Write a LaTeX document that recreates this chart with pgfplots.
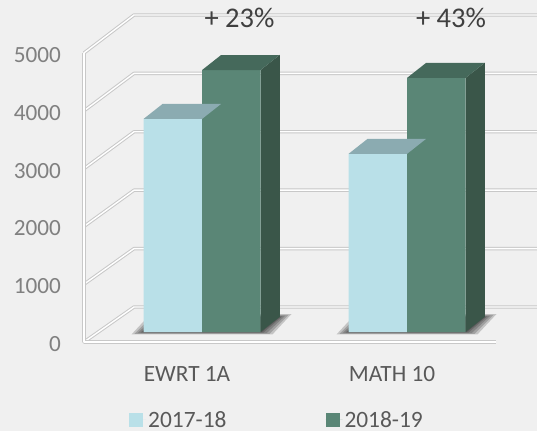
\documentclass[border=0pt]{standalone}
\usepackage{pgfplots}
\pgfplotsset{compat=1.18}
\usepackage{pgfplotstable}
\usepackage{fontspec}
\setmainfont{Carlito}
\definecolor{bg}{HTML}{F0F0F0}
\definecolor{lbF}{HTML}{B9E0E8}
\definecolor{lbT}{HTML}{8BABB1}
\definecolor{gF}{HTML}{5A8676}
\definecolor{gT}{HTML}{45695B}
\definecolor{gS}{HTML}{3A5649}
\definecolor{gridc}{HTML}{C8C8C8}
\definecolor{tickc}{HTML}{808080}
\definecolor{catc}{HTML}{595959}
\definecolor{pctc}{HTML}{404040}

\pgfplotstableread{
cat v1 v2
0 3660 4500
1 3060 4365
}\enrol

% top face of the 2017-18 bar (mark at its front top right corner)
\pgfdeclareplotmark{topA}{%
  \pgfpathmoveto{\pgfqpoint{0pt}{0pt}}%
  \pgfpathlineto{\pgfqpoint{-58.5pt}{0pt}}%
  \pgfpathlineto{\pgfqpoint{-39.5pt}{15pt}}%
  \pgfpathlineto{\pgfqpoint{19pt}{15pt}}%
  \pgfpathclose
  \pgfsetfillcolor{lbT}\pgfusepath{fill}}
% top face of the 2018-19 bar
\pgfdeclareplotmark{topB}{%
  \pgfpathmoveto{\pgfqpoint{0pt}{0pt}}%
  \pgfpathlineto{\pgfqpoint{-58.5pt}{0pt}}%
  \pgfpathlineto{\pgfqpoint{-39.5pt}{15pt}}%
  \pgfpathlineto{\pgfqpoint{19pt}{15pt}}%
  \pgfpathclose
  \pgfsetfillcolor{gT}\pgfusepath{fill}}

\tikzset{grid3d/.style={draw=gridc, double=white, double distance=1.4pt, line width=1pt, line join=round}}

\begin{document}
\begin{tikzpicture}
\useasboundingbox (0,0) rectangle (537pt,431pt);
\fill[bg] (0,0) rectangle (537pt,431pt);
% back wall and side wall gridlines
\foreach \k in {0,...,5}{
  \pgfmathsetmacro\yb{124+58.4*\k}
  \pgfmathsetmacro\yf{89+57.8*\k}
  \draw[grid3d] (84pt,\yf pt) -- (134pt,\yb pt) -- (540pt,\yb pt);
}
\draw[grid3d] (84pt,378pt) -- (84pt,89pt) -- (496pt,89pt);
% soft floor shadows under the bar pairs
\foreach \xr in {260.5,465.5}{
  \foreach \e in {12,9,6,3,1}{
    \fill[black, opacity=0.18]
      (\xr pt-117pt-\e pt, 99pt-\e pt/5) -- (\xr pt+\e pt, 99pt-\e pt/5)
      -- (\xr pt+19pt+\e pt, 114pt+\e pt/4) -- (\xr pt-98pt-\e pt, 114pt+\e pt/4) -- cycle;
  }
}

\begin{axis}[
  at={(0,0)}, anchor=south west,
  x=205pt, y=0.0582pt,
  xmin=-0.985366, xmax=1.634146,
  ymin=-1701.03, ymax=5704.47,
  hide axis, clip=false,
  legend columns=2,
  legend style={at={(0.2402,0.0260)}, anchor=west, draw=none, fill=none,
    inner sep=0pt, font=\fontsize{23.4}{26}\selectfont, text=catc,
    nodes={inner ysep=0pt, text depth=0pt},
    /tikz/every even column/.append style={column sep=97pt}},
  legend image code/.code={\fill[#1] (0pt,-7pt) rectangle (14pt,7pt); \path (0pt,0pt) -- (17pt,0pt);},
]
\addplot[only marks, mark=topA, forget plot]
  table[x=cat, y=v1]{\enrol};
\addplot[ybar, bar width=58.5pt, bar shift=-29.25pt, fill=lbF, draw=none]
  table[x=cat, y=v1]{\enrol};
\addplot[ybar, bar width=58.5pt, bar shift=29.25pt, fill=gF, draw=none]
  table[x=cat, y=v2]{\enrol};
% side faces of the 2018-19 bars: bars of the same height, sheared back
\addplot[ybar, bar width=19pt, bar shift=68.25pt, fill=gS, draw=none, forget plot,
  /tikz/yslant=0.78947, /tikz/yshift=-205.66pt, skip coords between index={1}{2}]
  table[x=cat, y=v2]{\enrol};
\addplot[ybar, bar width=19pt, bar shift=68.25pt, fill=gS, draw=none, forget plot,
  /tikz/yslant=0.78947, /tikz/yshift=-367.50pt, skip coords between index={0}{1}]
  table[x=cat, y=v2]{\enrol};
\addplot[only marks, mark=topB, forget plot]
  table[x expr=\thisrow{cat}+0.285366, y=v2]{\enrol};
\legend{2017-18,2018-19}
\end{axis}

% value axis labels (front edge of side wall)
\foreach \k/\lab in {0/0,1/1000,2/2000,3/3000,4/4000,5/5000}{
  \pgfmathsetmacro\yl{87+57.8*\k}
  \node[anchor=east, inner sep=0pt, text=tickc, font=\fontsize{23.2}{26}\selectfont] at (61pt,\yl pt) {\lab};
}
% category labels
\node[inner sep=0pt, text=catc, font=\fontsize{23.3}{26}\selectfont] at (187pt,57pt) {EWRT 1A};
\node[inner sep=0pt, text=catc, font=\fontsize{23.3}{26}\selectfont] at (392pt,57pt) {MATH 10};
% growth labels
\node[inner sep=0pt, text=pctc, font=\fontsize{28.5}{32}\selectfont] at (239.5pt,413.5pt) {+ 23\%};
\node[inner sep=0pt, text=pctc, font=\fontsize{28.5}{32}\selectfont] at (451pt,413.5pt) {+ 43\%};
\end{tikzpicture}
\end{document}
